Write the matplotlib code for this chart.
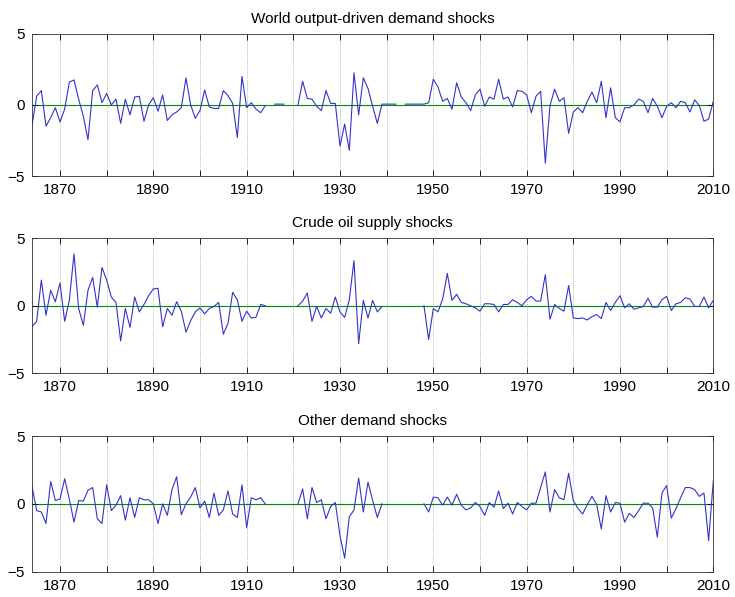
import numpy as np
import matplotlib
matplotlib.use("Agg")
import matplotlib.pyplot as plt

plt.rcParams['font.family'] = ['Liberation Sans', 'DejaVu Sans']

nan = np.nan
years = np.arange(1864, 2011)

titles = ["World output-driven demand shocks",
          "Crude oil supply shocks",
          "Other demand shocks"]

world = [
    -1.45, 0.6, 1.0, -1.5, -0.9, -0.2,                       # 1864-1869
    -1.2, -0.3, 1.6, 1.75, 0.4, -0.8, -2.45, 1.0, 1.4, 0.15,  # 1870s
    0.8, 0.0, 0.4, -1.3, 0.4, -0.7, 0.55, 0.6, -1.15, 0.0,    # 1880s
    0.5, -0.45, 0.7, -1.1, -0.7, -0.5, -0.2, 1.9, 0.0, -0.95, # 1890s
    -0.4, 1.05, -0.15, -0.25, -0.25, 1.0, 0.65, 0.1, -2.3, 2.0,  # 1900s
    -0.2, 0.15, -0.3, -0.55, -0.05, nan, 0.05, 0.05, 0.05, nan,  # 1910s
    nan, 0.0, 1.65, 0.45, 0.4, -0.1, -0.4, 1.0, 0.1, 0.1,      # 1920s
    -2.9, -1.35, -3.2, 2.25, -0.7, 1.9, 1.15, -0.1, -1.3, 0.05,  # 1930s
    0.05, 0.05, 0.05, nan, 0.05, 0.05, 0.05, 0.05, 0.05, 0.15,   # 1940s
    1.8, 1.25, 0.25, 0.45, -0.3, 1.55, 0.55, 0.15, -0.4, 0.7,    # 1950s
    1.1, -0.1, 0.55, 0.4, 1.8, 0.4, 0.55, -0.15, 1.0, 0.95,      # 1960s
    0.7, -0.55, 0.6, 0.95, -4.1, -0.05, 1.1, 0.25, 0.5, -2.0,    # 1970s
    -0.5, -0.2, -0.55, 0.25, 0.9, 0.15, 1.65, -0.9, 1.2, -0.9,   # 1980s
    -1.2, -0.2, -0.2, 0.0, 0.4, 0.25, -0.55, 0.45, -0.1, -0.9,   # 1990s
    -0.1, 0.15, -0.2, 0.25, 0.15, -0.5, 0.35, -0.05, -1.15, -1.0,  # 2000s
    0.25,                                                     # 2010
]

supply = [
    -1.55, -1.15, 1.9, -0.7, 1.15, 0.3,                        # 1864-1869
    1.7, -1.15, 0.4, 3.85, -0.2, -1.45, 1.15, 2.1, -0.1, 2.85,  # 1870s
    1.9, 0.65, 0.25, -2.6, -0.2, -1.6, 0.65, -0.45, 0.1, 0.75,  # 1880s
    1.25, 1.3, -1.55, -0.2, -0.7, 0.3, -0.4, -1.95, -1.1, -0.45,  # 1890s
    -0.15, -0.6, -0.2, -0.05, 0.25, -2.1, -1.3, 1.0, 0.45, -1.15,  # 1900s
    -0.4, -0.9, -0.85, 0.1, 0.0, nan, nan, nan, nan, nan,        # 1910s
    nan, 0.0, 0.35, 0.95, -1.15, -0.05, -0.9, -0.2, -0.55, 0.65,  # 1920s
    -0.45, -0.85, 0.45, 3.35, -2.8, 0.4, -0.9, 0.4, -0.45, -0.05,  # 1930s
    nan, nan, nan, nan, nan, nan, nan, nan, 0.0, -2.5,            # 1940s
    -0.2, -0.45, 0.5, 2.4, 0.4, 0.85, 0.25, 0.15, 0.0, -0.15,     # 1950s
    -0.4, 0.15, 0.15, 0.1, -0.45, 0.1, 0.1, 0.45, 0.25, 0.0,      # 1960s
    0.45, 0.7, 0.35, 0.35, 2.3, -1.0, 0.1, -0.2, -0.4, 1.5,       # 1970s
    -0.9, -0.95, -0.9, -1.05, -0.8, -0.65, -0.95, 0.25, -0.35, 0.25,  # 1980s
    0.75, -0.15, 0.15, -0.25, -0.15, -0.05, 0.55, -0.1, -0.1, 0.45,  # 1990s
    0.7, -0.35, 0.15, 0.25, 0.6, 0.5, -0.05, -0.05, 0.65, -0.15,  # 2000s
    0.4,                                                     # 2010
]

other = [
    1.3, -0.5, -0.6, -1.45, 1.65, 0.25,                        # 1864-1869
    0.35, 1.85, 0.35, -1.35, 0.25, 0.2, 1.0, 1.2, -1.1, -1.45,  # 1870s
    1.4, -0.5, -0.1, 0.6, -1.2, 0.45, -1.0, 0.45, 0.3, 0.3,     # 1880s
    0.0, -1.45, 0.0, -0.85, 1.05, 2.0, -0.8, 0.0, 0.5, 1.2,     # 1890s
    -0.3, 0.2, -1.0, 0.8, -0.85, -0.45, 0.95, -0.75, -1.0, 1.4,  # 1900s
    -1.75, 0.45, 0.3, 0.45, 0.0, nan, nan, nan, nan, nan,       # 1910s
    nan, 0.0, 1.1, -1.1, 1.2, 0.1, 0.3, -1.1, -0.2, 0.1,        # 1920s
    -2.35, -4.0, -0.95, -0.45, 1.9, -0.6, 1.6, 0.25, -1.0, 0.0,  # 1930s
    nan, nan, nan, nan, nan, nan, nan, nan, 0.0, -0.6,          # 1940s
    0.5, 0.45, -0.1, 0.5, -0.1, 0.7, -0.1, -0.45, -0.3, 0.1,    # 1950s
    -0.2, -0.85, 0.1, -0.25, 0.95, -0.35, 0.05, -0.75, 0.1, -0.2,  # 1960s
    -0.45, 0.05, 0.05, 1.2, 2.35, -0.6, 1.05, 0.45, 0.3, 2.25,  # 1970s
    0.25, -0.35, -0.75, -0.05, 0.55, -0.05, -1.85, 0.6, -0.6, 0.1,  # 1980s
    0.05, -1.35, -0.7, -1.0, -0.5, 0.05, 0.05, -0.3, -2.45, 0.8,  # 1990s
    1.35, -1.05, -0.35, 0.45, 1.2, 1.2, 1.05, 0.55, 0.8, -2.7,  # 2000s
    1.7,                                                     # 2010
]

series = [world, supply, other]
xticks = list(range(1870, 2011, 10))
xticklabels = [str(t) if (t - 1870) % 20 == 0 else "" for t in xticks]
yticks = [-5, 0, 5]

W, H = 735, 597
fig = plt.figure(figsize=(W / 100, H / 100), dpi=100)

# axes boxes in pixels: (left, top, right, bottom)
boxes = [(32, 33.7, 713.3, 176.0),
         (32, 238.3, 713.3, 373.3),
         (32, 436.0, 713.3, 571.7)]

for (l, t, r, b), vals, title in zip(boxes, series, titles):
    ax = fig.add_axes([l / W, 1 - b / H, (r - l) / W, (b - t) / H])
    ax.plot(years, np.array(vals, dtype=float), color=(0.2, 0.2, 0.8), lw=0.8)
    ax.axhline(0, color=(0.0, 0.55, 0.0), lw=0.8, zorder=1)
    ax.set_xlim(1864, 2010)
    ax.set_ylim(-5, 5)
    ax.set_xticks(xticks)
    ax.set_xticklabels(xticklabels)
    ax.set_yticks(yticks)
    ax.tick_params(direction='in', length=4, width=0.6, top=True, right=True,
                   labelsize=11, pad=5, colors='black')
    ax.grid(axis='x', linestyle=(0, (1, 2)), color='#777777', lw=0.5)
    for s in ax.spines.values():
        s.set_linewidth(0.6)
        s.set_color('#333333')
    ax.set_title(title, fontsize=11, pad=8)

fig.savefig("out.png", dpi=100)
